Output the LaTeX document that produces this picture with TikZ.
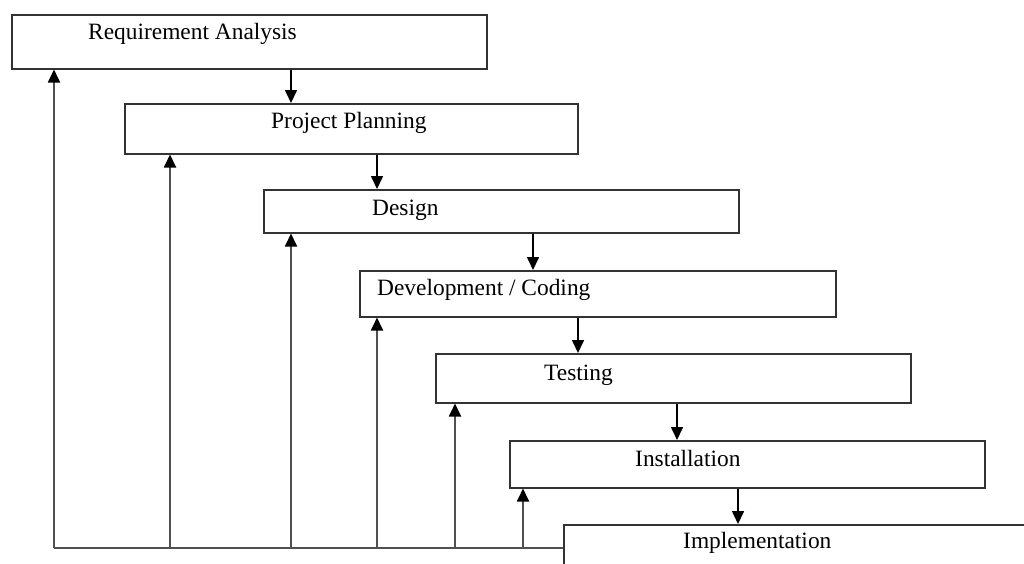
\documentclass[tikz,border=0pt]{standalone}
\usepackage{fontspec}
\setmainfont{Liberation Serif}
\usetikzlibrary{arrows.meta}
\definecolor{boxline}{HTML}{333333}
\definecolor{fbline}{HTML}{505050}
\tikzset{
  stagebox/.style={draw=boxline, line width=1.5pt, fill=white, anchor=north west, inner sep=0pt},
  stagetext/.style={anchor=base west, inner sep=0pt, font=\fontsize{23.4}{27}\selectfont},
  downarr/.style={draw=black, line width=1.6pt, -{Triangle[width=12pt,length=13pt,color=black]}},
  uparr/.style={draw=fbline, line width=1.8pt, -{Triangle[width=12pt,length=13pt,color=black]}},
  fb/.style={draw=fbline, line width=1.8pt}
}
\begin{document}
\begin{tikzpicture}[x=1pt,y=-1pt]
\useasboundingbox (0,0) rectangle (1024,563);
\clip (0,0) rectangle (1024,563);
\fill[white] (0,0) rectangle (1024,563);
% boxes
\node[stagebox, minimum width=475pt, minimum height=54pt] (ra) at (11,14) {};
\node[stagebox, minimum width=453pt, minimum height=50pt] (pp) at (124,103) {};
\node[stagebox, minimum width=475pt, minimum height=43pt] (de) at (263,189) {};
\node[stagebox, minimum width=476pt, minimum height=46pt] (dc) at (359,270) {};
\node[stagebox, minimum width=475pt, minimum height=49pt] (te) at (435,353) {};
\node[stagebox, minimum width=475pt, minimum height=47pt] (in) at (509,440) {};
\node[stagebox, minimum width=520pt, minimum height=100pt] (im) at (563,524) {};
% texts
\node[stagetext] (tra) at (88,39) {Requirement Analysis};
\node[stagetext] (tpp) at (271,128) {Project Planning};
\node[stagetext] (tde) at (372,215) {Design};
\node[stagetext] (tdc) at (377,295) {Development / Coding};
\node[stagetext] (tte) at (544,380) {Testing};
\node[stagetext] (tin) at (635,466) {Installation};
\node[stagetext] (tim) at (683,548) {Implementation};
% down arrows
\draw[downarr] (ra.south -| 291,0) -- (pp.north -| 291,0);
\draw[downarr] (pp.south -| 377,0) -- (de.north -| 377,0);
\draw[downarr] (de.south -| 533,0) -- (dc.north -| 533,0);
\draw[downarr] (dc.south -| 578,0) -- (te.north -| 578,0);
\draw[downarr] (te.south -| 677,0) -- (in.north -| 677,0);
\draw[downarr] (in.south -| 738,0) -- (im.north -| 738,0);
% feedback
\coordinate (fbl) at (54,548);
\coordinate (f2) at (170,548);
\coordinate (f3) at (291,548);
\coordinate (f4) at (377,548);
\coordinate (f5) at (455,548);
\coordinate (f6) at (523,548);
\draw[fb] (im.west |- fbl) -- (fbl);
\draw[uparr] (fbl) -- (ra.south -| fbl);
\draw[uparr] (f2) -- (pp.south -| f2);
\draw[uparr] (f3) -- (de.south -| f3);
\draw[uparr] (f4) -- (dc.south -| f4);
\draw[uparr] (f5) -- (te.south -| f5);
\draw[uparr] (f6) -- (in.south -| f6);
\end{tikzpicture}
\end{document}
